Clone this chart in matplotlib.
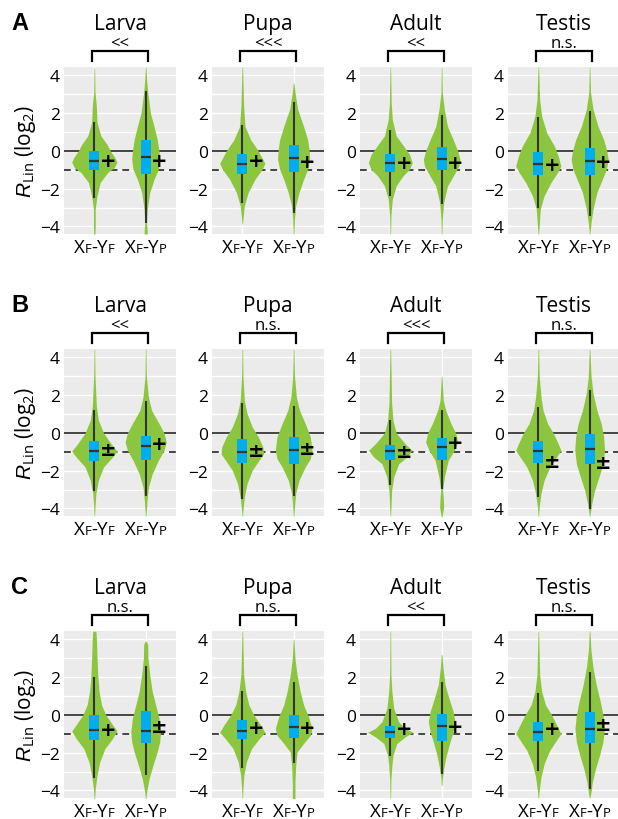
import matplotlib.pyplot as plt
from matplotlib.offsetbox import TextArea, HPacker, AnnotationBbox

FONT = "Open Sans"
plt.rcParams['font.family'] = [FONT, 'DejaVu Sans']
plt.rcParams['mathtext.fontset'] = 'custom'
plt.rcParams['mathtext.rm'] = FONT
plt.rcParams['mathtext.it'] = 'Liberation Sans:italic'

stages = ["Larva", "Pupa", "Adult", "Testis"]
rows = ["A", "B", "C"]
y_type = ["F", "P"]   # XF-YF, XF-YP

signif = {
    "A": ["<<", "<<<", "<<", "n.s."],
    "B": ["<<", "n.s.", "<<<", "n.s."],
    "C": ["n.s.", "n.s.", "<<", "n.s."],
}

# box stats per violin: (whisker low, q1, median, q3, whisker high), order Larva F/P, Pupa F/P, Adult F/P, Testis F/P
box_A = [(-2.51, -1.0, -0.53, 0.0, 1.53), (-3.81, -1.2, -0.32, 0.57, 3.2),
         (-2.78, -1.2, -0.67, -0.18, 1.35), (-3.3, -1.14, -0.39, 0.32, 2.58),
         (-2.37, -1.1, -0.65, -0.18, 1.09), (-2.81, -1.02, -0.44, 0.21, 1.88),
         (-3.02, -1.28, -0.7, -0.05, 1.79), (-3.43, -1.27, -0.53, 0.18, 2.1)]
box_B = [(-3.08, -1.5, -0.97, -0.42, 1.24), (-3.35, -1.42, -0.67, -0.14, 1.7),
         (-3.49, -1.58, -1.0, -0.34, 1.59), (-3.35, -1.63, -0.88, -0.21, 1.42),
         (-2.78, -1.45, -0.97, -0.62, 0.67), (-2.99, -1.45, -0.74, -0.27, 1.24),
         (-3.4, -1.6, -0.97, -0.42, 1.38), (-4.05, -1.66, -0.85, -0.04, 2.27)]
box_C = [(-3.32, -1.33, -0.8, 0.0, 1.99), (-3.16, -1.48, -0.85, 0.23, 2.61),
         (-2.81, -1.3, -0.85, -0.27, 1.28), (-2.54, -1.21, -0.66, 0.0, 1.72),
         (-2.17, -1.21, -0.92, -0.59, 0.32), (-3.15, -1.37, -0.57, 0.07, 1.72),
         (-2.97, -1.39, -0.89, -0.36, 1.19), (-3.91, -1.51, -0.76, 0.14, 2.28)]

# mean markers
mean_A = [-0.53, -0.53, -0.53, -0.56, -0.6, -0.6, -0.72, -0.55]
mean_B = [-0.88, -0.57, -0.92, -0.83, -1.0, -0.51, -1.5, -1.54]
mean_C = [-0.76, -0.62, -0.68, -0.66, -0.71, -0.62, -0.71, -0.5]
mark_A = ["+", "+", "+", "+", "+", "+", "+", "+"]
mark_B = ["±", "+", "±", "±", "±", "+", "±", "±"]
mark_C = ["+", "±", "+", "+", "+", "+", "+", "±"]

# violin outlines: y knots and relative density (1 = widest)
vy_A = [[4.4, 3.1, 2.37, 1.5, 0.8, 0.35, 0, -0.35, -0.6, -0.88, -1.14, -1.67, -2.37, -3.07, -3.95, -4.4],
        [4.45, 3.8, 3.1, 2.0, 1.3, 0.6, 0, -0.45, -0.97, -1.5, -2.2, -3.07, -3.8, -4.3, -4.4],
        [4.45, 2.37, 1.3, 0.6, 0, -0.45, -0.65, -0.97, -1.5, -2.2, -2.9, -3.6, -3.87],
        [3.6, 3.1, 2.2, 1.3, 0.6, 0, -0.45, -0.97, -1.5, -2.2, -2.9, -3.6, -4.4],
        [4.45, 2.55, 1.67, 0.8, 0.26, -0.18, -0.62, -0.97, -1.32, -1.85, -2.55, -3.4, -4.4],
        [4.45, 3.1, 2.2, 1.3, 0.6, 0, -0.45, -0.8, -1.23, -1.85, -2.72, -3.6, -4.4],
        [4.45, 2.7, 1.85, 0.97, 0.26, -0.26, -0.8, -1.14, -1.67, -2.37, -3.07, -3.95, -4.4],
        [4.45, 3.1, 2.2, 1.3, 0.6, 0, -0.45, -0.97, -1.5, -2.2, -3.07, -3.8, -4.4]]
vd_A = [[0.015, 0.03, 0.09, 0.12, 0.29, 0.56, 0.71, 0.91, 1.0, 0.88, 0.59, 0.26, 0.12, 0.04, 0.04, 0.03],
        [0.015, 0.04, 0.09, 0.21, 0.37, 0.51, 0.59, 0.62, 0.56, 0.37, 0.18, 0.07, 0.04, 0.07, 0.06],
        [0.015, 0.06, 0.12, 0.37, 0.71, 0.91, 1.0, 0.88, 0.56, 0.26, 0.09, 0.03, 0.015],
        [0.015, 0.06, 0.18, 0.44, 0.62, 0.69, 0.71, 0.62, 0.44, 0.24, 0.09, 0.04, 0.015],
        [0.015, 0.04, 0.09, 0.26, 0.59, 0.85, 0.97, 0.85, 0.56, 0.26, 0.09, 0.03, 0.015],
        [0.015, 0.03, 0.12, 0.26, 0.51, 0.71, 0.81, 0.76, 0.56, 0.26, 0.09, 0.03, 0.015],
        [0.015, 0.06, 0.15, 0.37, 0.71, 0.88, 1.0, 0.85, 0.56, 0.26, 0.09, 0.04, 0.015],
        [0.015, 0.04, 0.15, 0.37, 0.62, 0.76, 0.82, 0.74, 0.56, 0.32, 0.15, 0.06, 0.015]]
vy_B = [[4.45, 3.0, 1.4, 0.67, 0, -0.57, -0.96, -1.27, -1.8, -2.5, -3.2, -3.9, -4.4],
        [4.45, 3.0, 1.9, 1.2, 0.5, 0, -0.48, -0.92, -1.45, -2.16, -2.87, -3.57, -4.4],
        [4.45, 3.0, 1.73, 1.03, 0.32, -0.21, -0.74, -1.1, -1.45, -1.98, -2.69, -3.4, -4.1, -4.4],
        [4.45, 3.0, 1.9, 1.2, 0.5, -0.21, -0.92, -1.36, -1.8, -2.5, -3.2, -3.9, -4.4],
        [4.45, 1.56, 0.67, 0, -0.57, -0.92, -1.27, -1.63, -2.34, -3.04, -4.4],
        [3.0, 1.73, 1.2, 0.5, 0, -0.48, -0.92, -1.45, -2.34, -3.04, -3.4, -3.93, -4.46],
        [4.45, 3.0, 1.9, 1.2, 0.5, 0, -0.57, -0.92, -1.27, -1.8, -2.5, -3.2, -3.9, -4.4],
        [4.45, 3.0, 2.1, 1.2, 0.5, -0.21, -0.92, -1.63, -2.34, -3.04, -3.75, -4.4]]
vd_B = [[0.015, 0.03, 0.09, 0.18, 0.41, 0.74, 1.0, 0.81, 0.41, 0.18, 0.07, 0.03, 0.015],
        [0.015, 0.03, 0.12, 0.26, 0.59, 0.81, 0.91, 0.81, 0.56, 0.29, 0.12, 0.06, 0.015],
        [0.015, 0.03, 0.09, 0.21, 0.44, 0.71, 0.91, 0.94, 0.74, 0.44, 0.21, 0.09, 0.03, 0.015],
        [0.015, 0.04, 0.12, 0.26, 0.51, 0.74, 0.81, 0.74, 0.51, 0.24, 0.09, 0.04, 0.015],
        [0.015, 0.06, 0.12, 0.26, 0.66, 0.96, 0.74, 0.37, 0.15, 0.06, 0.015],
        [0.015, 0.07, 0.18, 0.41, 0.62, 0.71, 0.56, 0.29, 0.12, 0.04, 0.07, 0.09, 0.015],
        [0.015, 0.04, 0.12, 0.21, 0.41, 0.66, 0.88, 1.0, 0.81, 0.51, 0.26, 0.12, 0.04, 0.015],
        [0.015, 0.06, 0.15, 0.32, 0.51, 0.62, 0.66, 0.59, 0.41, 0.22, 0.09, 0.015]]
vy_C = [[4.44, 4.1, 3.0, 2.13, 1.24, 0.53, 0, -0.53, -0.85, -1.24, -1.78, -2.49, -3.2, -3.9, -4.44],
        [3.9, 3.73, 3.0, 2.13, 1.24, 0.53, -0.18, -0.89, -1.42, -1.96, -2.67, -3.38, -4.09, -4.44],
        [4.45, 2.13, 1.24, 0.53, 0, -0.53, -0.92, -1.24, -1.78, -2.49, -3.2, -3.9, -4.4],
        [4.0, 3.0, 2.13, 1.24, 0.53, -0.09, -0.71, -1.07, -1.51, -1.96, -2.67, -3.56, -4.44],
        [4.45, 2.13, 1.24, 0.36, -0.36, -0.71, -0.92, -1.16, -1.51, -2.13, -2.67, -3.38, -4.4],
        [3.2, 2.49, 1.6, 0.89, 0.18, -0.36, -0.89, -1.42, -2.13, -2.84, -3.38, -3.73],
        [4.45, 2.13, 1.24, 0.53, 0, -0.53, -0.98, -1.33, -1.87, -2.58, -3.29, -4.0, -4.4],
        [4.45, 3.38, 2.49, 1.6, 0.71, 0, -0.71, -1.42, -2.13, -2.84, -3.56, -4.09, -4.4]]
vd_C = [[0.07, 0.09, 0.12, 0.15, 0.21, 0.32, 0.51, 0.81, 1.0, 0.81, 0.47, 0.24, 0.12, 0.04, 0.015],
        [0.03, 0.09, 0.1, 0.18, 0.29, 0.44, 0.59, 0.66, 0.62, 0.51, 0.32, 0.15, 0.04, 0.015],
        [0.015, 0.06, 0.15, 0.29, 0.51, 0.81, 1.0, 0.76, 0.41, 0.18, 0.07, 0.03, 0.015],
        [0.015, 0.06, 0.15, 0.29, 0.44, 0.66, 0.81, 0.74, 0.44, 0.15, 0.09, 0.06, 0.06],
        [0.015, 0.03, 0.07, 0.15, 0.37, 0.66, 1.0, 0.66, 0.29, 0.12, 0.07, 0.03, 0.015],
        [0.015, 0.06, 0.15, 0.32, 0.51, 0.59, 0.51, 0.37, 0.21, 0.09, 0.03, 0.015],
        [0.015, 0.06, 0.15, 0.32, 0.59, 0.81, 1.0, 0.81, 0.51, 0.26, 0.12, 0.04, 0.015],
        [0.015, 0.06, 0.15, 0.29, 0.47, 0.59, 0.65, 0.59, 0.44, 0.26, 0.12, 0.06, 0.015]]

boxes = {"A": box_A, "B": box_B, "C": box_C}
means = {"A": mean_A, "B": mean_B, "C": mean_C}
marks = {"A": mark_A, "B": mark_B, "C": mark_C}
vys = {"A": vy_A, "B": vy_B, "C": vy_C}
vds = {"A": vd_A, "B": vd_B, "C": vd_C}

GREEN = "#8cc63f"
BLUE = "#00aeef"
DARK = "#333333"
PANEL = "#ebebeb"

fig = plt.figure(figsize=(6.18, 8.2), dpi=100)

row_bottom = {"A": 0.7134, "B": 0.3695, "C": 0.0256}
col_left = [0.1036, 0.343, 0.5825, 0.822]
ax_w, ax_h = 0.1812, 0.2037
px = 0.72  # points per pixel


def geno_label(ax, x, letter):
    big = dict(size=13.5, color="black")
    small = dict(size=9.5, color="black")
    parts = [TextArea("X", textprops=big), TextArea("F", textprops=small),
             TextArea("-Y", textprops=big), TextArea(letter, textprops=small)]
    box = HPacker(children=parts, align="baseline", pad=0, sep=0)
    ab = AnnotationBbox(box, (x, 0), xycoords=("data", "axes fraction"),
                        xybox=(0, -12.5 * px), boxcoords="offset points",
                        frameon=False, box_alignment=(0.5, 0.5), annotation_clip=False)
    ax.add_artist(ab)


for r in rows:
    for j, stage in enumerate(stages):
        ax = fig.add_axes([col_left[j], row_bottom[r], ax_w, ax_h])
        ax.set_facecolor(PANEL)
        for s in ax.spines.values():
            s.set_visible(False)
        ax.set_xlim(0.41, 2.59)
        ax.set_ylim(-4.4, 4.45)
        ax.set_yticks([-4, -2, 0, 2, 4])
        ax.set_yticks([-3, -1, 1, 3], minor=True)
        ax.set_xticks([1, 2])
        ax.set_xticklabels([])
        ax.grid(True, which="both", color="white", lw=1.0, zorder=0)
        ax.set_axisbelow(True)
        ax.tick_params(which="both", length=0, pad=3)
        ax.tick_params(axis="y", labelsize=12.5)

        ax.axhline(0, color="#444444", lw=1.4, zorder=1)
        ax.axhline(-1, color="#444444", lw=1.4, ls=(0, (3.5, 2.5)), zorder=1)

        for k in range(2):
            idx = 2 * j + k
            c = k + 1
            ys = vys[r][idx]
            ws = [d * 0.44 for d in vds[r][idx]]
            ax.fill_betweenx(ys, [c - w for w in ws], [c + w for w in ws],
                             color=GREEN, lw=0, zorder=2)
            wlo, q1, med, q3, whi = boxes[r][idx]
            ax.plot([c, c], [wlo, whi], color=DARK, lw=1.5, zorder=3,
                    solid_capstyle="butt")
            ax.bar(c, q3 - q1, bottom=q1, width=0.19, color=BLUE, lw=0, zorder=4)
            ax.plot([c - 0.095, c + 0.095], [med, med], color=DARK, lw=1.6, zorder=5,
                    solid_capstyle="butt")
            ax.text(c + 0.26, means[r][idx], marks[r][idx], ha="center", va="center",
                    fontsize=14, fontweight="bold", color="black", zorder=6,
                    family=["DejaVu Sans"])
            geno_label(ax, c, y_type[k])

        # title, significance and bracket
        ax.annotate(stage, (1.5, 1), xycoords=("data", "axes fraction"),
                    xytext=(0, 43 * px), textcoords="offset points",
                    ha="center", va="center", fontsize=15, annotation_clip=False)
        ax.annotate(signif[r][j], (1.5, 1), xycoords=("data", "axes fraction"),
                    xytext=(0, 24 * px), textcoords="offset points",
                    ha="center", va="center", fontsize=12, annotation_clip=False)
        trans = ax.get_xaxis_transform()
        top = 1 + 16 / 167.0
        leg = 1 + 6 / 167.0
        ax.plot([0.96, 0.96, 2.04, 2.04], [leg, top, top, leg], color="black",
                lw=1.6, transform=trans, clip_on=False, solid_joinstyle="miter")

    # panel letter and y label
    b = row_bottom[r]
    fig.text(20 / 618, b + ax_h + 44 / 820, r, fontsize=17, fontweight="bold",
             family=["Liberation Sans"], ha="center", va="center")
    fig.text(25 / 618, b + ax_h / 2, r"$R_{\mathrm{Lin}}$ (log$_2$)", rotation=90,
             fontsize=15, ha="center", va="center")

fig.savefig("out.png", dpi=100)
